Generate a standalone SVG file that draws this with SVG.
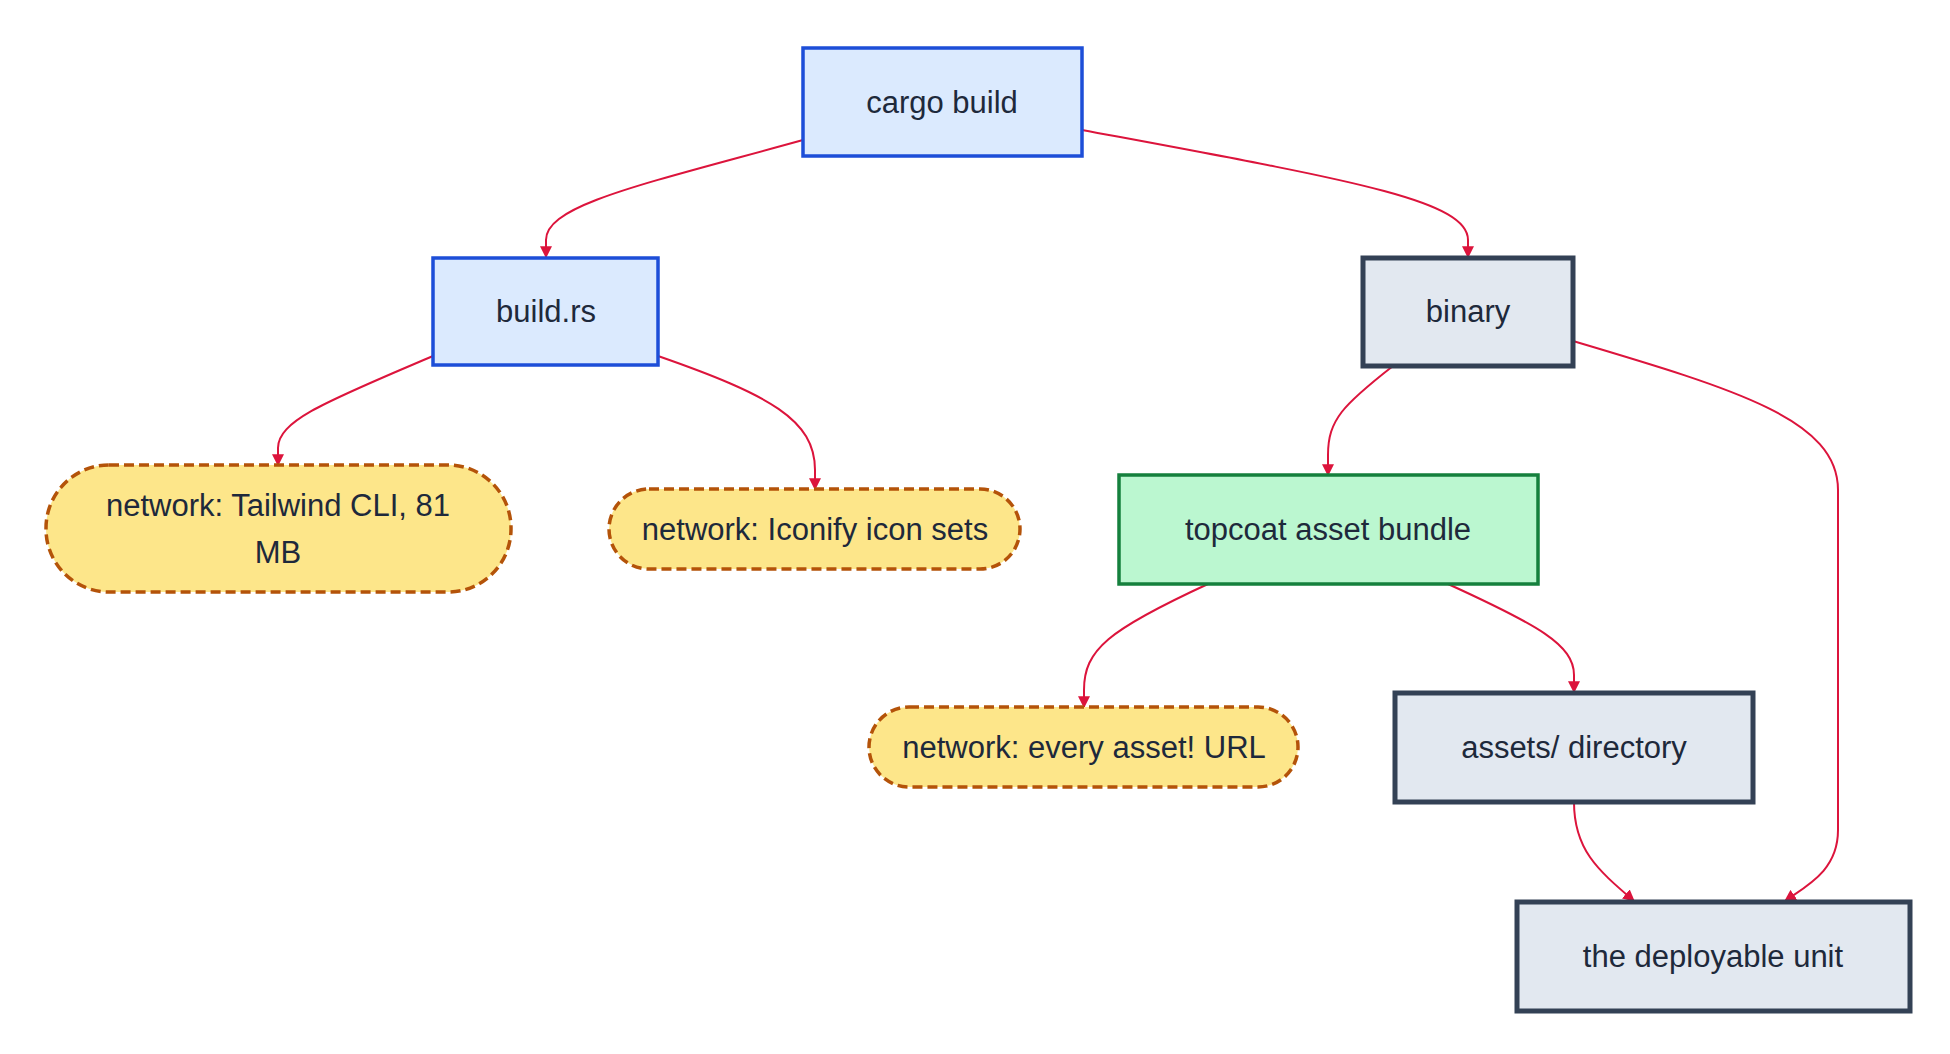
<svg xmlns="http://www.w3.org/2000/svg" width="1950" height="1054" viewBox="0 0 1950 1054">
<defs>
<marker id="ah" viewBox="0 0 10 10" refX="9" refY="5" markerWidth="12" markerHeight="12" markerUnits="userSpaceOnUse" orient="auto"><path d="M0,0 L10,5 L0,10 z" fill="#dc143c"/></marker>
</defs>
<style>
text{font-family:"Liberation Sans",Arial,sans-serif;font-size:31px;fill:#1e293b;text-anchor:middle;dominant-baseline:central}
.blue{fill:#dbeafe;stroke:#1d4ed8;stroke-width:3.5}
.grey{fill:#e2e8f0;stroke:#334155;stroke-width:5}
.green{fill:#bbf7d0;stroke:#15803d;stroke-width:3.5}
.net{fill:#fde68a;stroke:#b45309;stroke-width:3.5;stroke-dasharray:10 5}
.e{fill:none;stroke:#dc143c;stroke-width:2;marker-end:url(#ah)}
</style>
<rect width="1950" height="1054" fill="#fff"/>
<g id="connectors">
<path class="e" d="M803,140 C640,185 546,205 546,240 L546,257"/>
<path class="e" d="M1082,130 C1350,180 1468,200 1468,240 L1468,257"/>
<path class="e" d="M433,356 C330,400 278,420 278,448 L278,465"/>
<path class="e" d="M658,356 C770,395 815,420 815,470 L815,489"/>
<path class="e" d="M1393,366 C1343,405 1328,420 1328,455 L1328,475"/>
<path class="e" d="M1573,341 C1738,390 1838,420 1838,490 L1838,830 C1838,870 1808,885 1785,901"/>
<path class="e" d="M1208,584 C1108,630 1084,650 1084,690 L1084,707"/>
<path class="e" d="M1448,584 C1538,625 1574,645 1574,675 L1574,692"/>
<path class="e" d="M1574,802 C1574,850 1598,870 1634,901"/>
</g>
<g id="cargo"><rect class="blue" x="803" y="48" width="279" height="108"/><text x="942" y="102">cargo build</text></g>
<g id="buildrs"><rect class="blue" x="433" y="258" width="225" height="107"/><text x="546" y="311">build.rs</text></g>
<g id="binary"><rect class="grey" x="1363" y="258" width="210" height="108"/><text x="1468" y="311">binary</text></g>
<g id="tailwind"><rect class="net" x="46" y="465" width="465" height="127" rx="63"/><text x="278" y="505">network: Tailwind CLI, 81</text><text x="278" y="552">MB</text></g>
<g id="iconify"><rect class="net" x="609" y="489" width="411" height="80" rx="40"/><text x="815" y="529">network: Iconify icon sets</text></g>
<g id="topcoat"><rect class="green" x="1119" y="475" width="419" height="109"/><text x="1328" y="529">topcoat asset bundle</text></g>
<g id="everyasset"><rect class="net" x="869" y="707" width="429" height="80" rx="40"/><text x="1084" y="747">network: every asset! URL</text></g>
<g id="assetsdir"><rect class="grey" x="1395" y="693" width="358" height="109"/><text x="1574" y="747">assets/ directory</text></g>
<g id="deployable"><rect class="grey" x="1517" y="902" width="393" height="109"/><text x="1713" y="956">the deployable unit</text></g>
</svg>
